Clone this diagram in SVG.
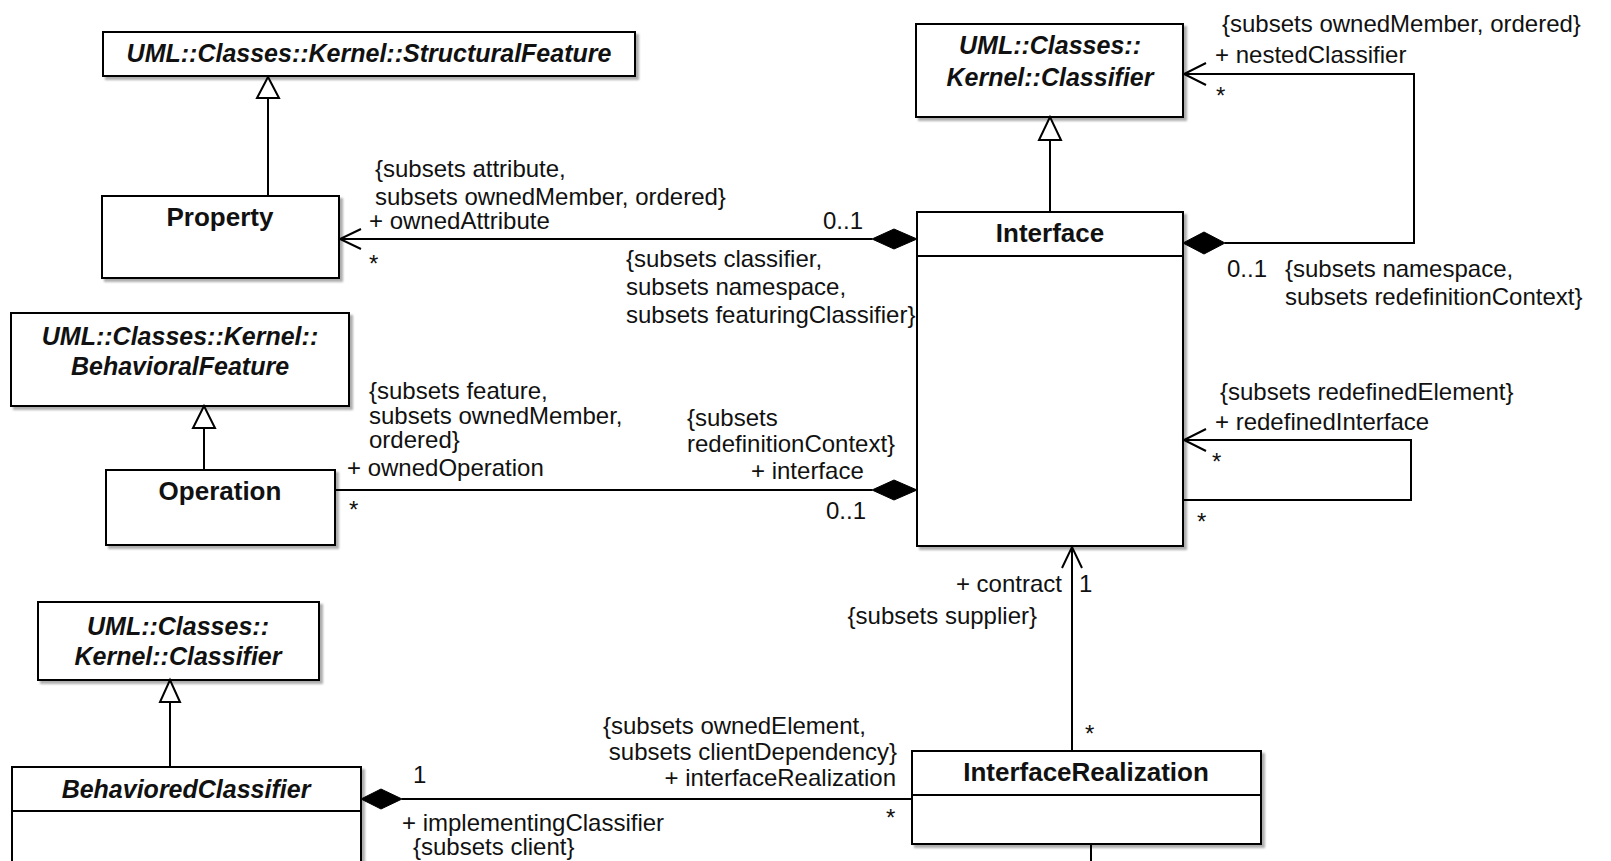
<svg xmlns="http://www.w3.org/2000/svg" width="1611" height="861" viewBox="0 0 1611 861">
  <defs>
    <filter id="shadow" x="-5%" y="-5%" width="115%" height="120%">
      <feDropShadow dx="3" dy="3" stdDeviation="1.2" flood-color="#777" flood-opacity="0.6"/>
    </filter>
    <style>
      .box { fill: #fff; stroke: #000; stroke-width: 2; filter: url(#shadow); }
      .div { stroke: #000; stroke-width: 2; fill: none; }
      .edge { stroke: #000; stroke-width: 2; fill: none; }
      .hollow { fill: #fff; stroke: #000; stroke-width: 2; stroke-linejoin: miter; }
      .solid { fill: #000; stroke: #000; stroke-width: 1; }
      .open { fill: none; stroke: #000; stroke-width: 2; }
      text { font-family: "Liberation Sans", Arial, sans-serif; fill: #111; }
      .lbl { font-size: 24px; }
      .cls { font-size: 26px; font-weight: bold; text-anchor: middle; }
      .abs { font-size: 25px; font-weight: bold; font-style: italic; text-anchor: middle; }
      .end { text-anchor: end; }
    </style>
  </defs>

  <!-- class nodes -->
  <g id="structural-feature">
    <rect class="box" x="103" y="32" width="532" height="44"/>
    <text class="abs" x="369" y="62">UML::Classes::Kernel::StructuralFeature</text>
  </g>

  <g id="property">
    <rect class="box" x="102" y="196" width="237" height="82"/>
    <text class="cls" x="220" y="226">Property</text>
  </g>

  <g id="behavioral-feature">
    <rect class="box" x="11" y="313" width="338" height="93"/>
    <text class="abs" x="180" y="345">UML::Classes::Kernel::</text>
    <text class="abs" x="180" y="375">BehavioralFeature</text>
  </g>

  <g id="operation">
    <rect class="box" x="106" y="470" width="229" height="75"/>
    <text class="cls" x="220" y="500">Operation</text>
  </g>

  <g id="classifier-top">
    <rect class="box" x="916" y="24" width="267" height="93"/>
    <text class="abs" x="1050" y="54">UML::Classes::</text>
    <text class="abs" x="1050" y="86">Kernel::Classifier</text>
  </g>

  <g id="interface">
    <rect class="box" x="917" y="212" width="266" height="334"/>
    <line class="div" x1="917" y1="256" x2="1183" y2="256"/>
    <text class="cls" x="1050" y="242">Interface</text>
  </g>

  <g id="classifier-bottom">
    <rect class="box" x="38" y="602" width="281" height="78"/>
    <text class="abs" x="178" y="635">UML::Classes::</text>
    <text class="abs" x="178" y="665">Kernel::Classifier</text>
  </g>

  <g id="behaviored-classifier">
    <rect class="box" x="12" y="767" width="349" height="120"/>
    <line class="div" x1="12" y1="811" x2="361" y2="811"/>
    <text class="abs" x="186" y="798">BehavioredClassifier</text>
  </g>

  <g id="interface-realization">
    <rect class="box" x="912" y="751" width="349" height="93"/>
    <line class="div" x1="912" y1="795" x2="1261" y2="795"/>
    <text class="cls" x="1086" y="781">InterfaceRealization</text>
  </g>

  <!-- connectors -->
  <g id="connectors">
    <!-- generalizations -->
    <line class="edge" x1="268" y1="98" x2="268" y2="196"/>
    <polygon class="hollow" points="268,77 257,98 279,98"/>

    <line class="edge" x1="204" y1="428" x2="204" y2="470"/>
    <polygon class="hollow" points="204,406 193,428 215,428"/>

    <line class="edge" x1="1050" y1="140" x2="1050" y2="212"/>
    <polygon class="hollow" points="1050,117 1039,140 1061,140"/>

    <line class="edge" x1="170" y1="702" x2="170" y2="767"/>
    <polygon class="hollow" points="170,680 160,702 180,702"/>

    <!-- Interface owns attributes -->
    <line class="edge" x1="339" y1="239" x2="872" y2="239"/>
    <polyline class="open" points="361,229 340,239 361,249"/>
    <polygon class="solid" points="917,239 894,229 872,239 894,249"/>

    <!-- Interface owns operations -->
    <line class="edge" x1="335" y1="490" x2="872" y2="490"/>
    <polygon class="solid" points="917,490 894,480 872,490 894,500"/>

    <!-- nested classifiers -->
    <polyline class="edge" points="1225,243 1414,243 1414,74 1184,74"/>
    <polyline class="open" points="1206,63 1184,74 1206,85"/>
    <polygon class="solid" points="1183,243 1204,232 1225,243 1204,254"/>

    <!-- redefined interfaces -->
    <polyline class="edge" points="1183,500 1411,500 1411,440 1184,440"/>
    <polyline class="open" points="1206,429 1184,440 1206,451"/>

    <!-- contract -->
    <line class="edge" x1="1072" y1="547" x2="1072" y2="751"/>
    <polyline class="open" points="1062,568 1072,547 1082,568"/>

    <!-- interface realizations -->
    <line class="edge" x1="402" y1="799" x2="912" y2="799"/>
    <polygon class="solid" points="361,799 381,789 402,799 381,809"/>

    <!-- continues below the frame -->
    <line class="edge" x1="1091" y1="844" x2="1091" y2="861"/>
  </g>

  <!-- association end labels -->
  <g id="labels">
    <text class="lbl" x="375" y="177">{subsets attribute,</text>
    <text class="lbl" x="375" y="205">subsets ownedMember, ordered}</text>
    <text class="lbl" x="369" y="229">+ ownedAttribute</text>
    <text class="lbl" x="369" y="272">*</text>
    <text class="lbl" x="823" y="229">0..1</text>
    <text class="lbl" x="626" y="267">{subsets classifier,</text>
    <text class="lbl" x="626" y="295">subsets namespace,</text>
    <text class="lbl" x="626" y="323">subsets featuringClassifier}</text>

    <text class="lbl" x="369" y="399">{subsets feature,</text>
    <text class="lbl" x="369" y="424">subsets ownedMember,</text>
    <text class="lbl" x="369" y="448">ordered}</text>
    <text class="lbl" x="347" y="476">+ ownedOperation</text>
    <text class="lbl" x="349" y="518">*</text>
    <text class="lbl" x="687" y="426">{subsets</text>
    <text class="lbl" x="687" y="452">redefinitionContext}</text>
    <text class="lbl" x="751" y="479">+ interface</text>
    <text class="lbl" x="826" y="519">0..1</text>

    <text class="lbl" x="1222" y="32">{subsets ownedMember, ordered}</text>
    <text class="lbl" x="1215" y="63">+ nestedClassifier</text>
    <text class="lbl" x="1216" y="104">*</text>
    <text class="lbl" x="1227" y="277">0..1</text>
    <text class="lbl" x="1285" y="277">{subsets namespace,</text>
    <text class="lbl" x="1285" y="305">subsets redefinitionContext}</text>

    <text class="lbl" x="1220" y="400">{subsets redefinedElement}</text>
    <text class="lbl" x="1215" y="430">+ redefinedInterface</text>
    <text class="lbl" x="1212" y="470">*</text>
    <text class="lbl" x="1197" y="530">*</text>

    <text class="lbl end" x="1062" y="592">+ contract</text>
    <text class="lbl" x="1079" y="592">1</text>
    <text class="lbl end" x="1037" y="624">{subsets supplier}</text>
    <text class="lbl" x="1085" y="742">*</text>

    <text class="lbl" x="413" y="783">1</text>
    <text class="lbl" x="402" y="831">+ implementingClassifier</text>
    <text class="lbl" x="413" y="855">{subsets client}</text>
    <text class="lbl" x="603" y="734">{subsets ownedElement,</text>
    <text class="lbl end" x="897" y="760">subsets clientDependency}</text>
    <text class="lbl end" x="896" y="786">+ interfaceRealization</text>
    <text class="lbl" x="886" y="826">*</text>
  </g>
</svg>
